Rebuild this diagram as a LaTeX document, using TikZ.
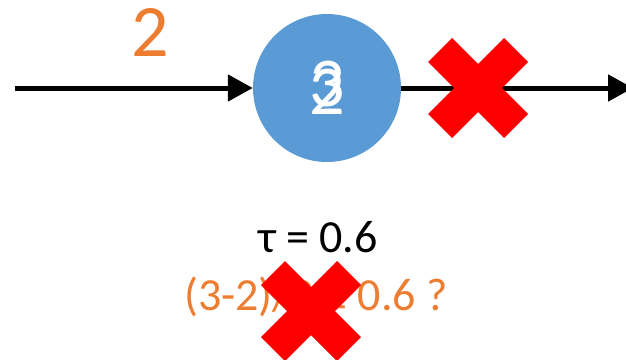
\documentclass[tikz,border=0pt]{standalone}
\usepackage{fontspec}
\setmainfont{Carlito}
\usetikzlibrary{arrows.meta}
\definecolor{nodeblue}{HTML}{5B9BD5}
\definecolor{accorange}{HTML}{ED7D31}
\definecolor{crossred}{HTML}{FF0000}
\tikzset{
  flow/.style={line width=5pt, -{Triangle[length=25pt,width=26pt]}},
  bignum/.style={inner sep=0pt, font=\fontsize{74}{80}\selectfont},
  cellnum/.style={inner sep=0pt, text=white, font=\fontsize{70}{76}\selectfont},
  eqtext/.style={inner sep=0pt, anchor=base, font=\fontsize{46}{52}\selectfont},
  pics/redcross/.style={code={
    \fill[crossred] (26,50) -- (50,26) -- (24,0) -- (50,-26) -- (26,-50) -- (0,-24)
      -- (-26,-50) -- (-50,-26) -- (-24,0) -- (-50,26) -- (-26,50) -- (0,24) -- cycle;
  }}
}
\begin{document}
\begin{tikzpicture}[x=1pt,y=-1pt]
\useasboundingbox (0,0) rectangle (626,359);
\node[circle, fill=nodeblue, minimum size=148pt, inner sep=0pt] (c) at (327,88) {};
\node[cellnum] (n3) at (327,84.5) {3};
\node[cellnum] (n2) at (327,91.5) {2};
\coordinate (start) at (15,88);
\coordinate (end) at (633,88);
\draw[flow] (start) -- (c.west);
\draw[flow] (c.east) -- (end);
\node[bignum, text=accorange, anchor=base] (lbl) at (150,56) {2};
\node[eqtext] (tau) at (318,252) {τ = 0.6};
\node[eqtext, text=accorange] (test) at (316,310) {(3-2)/3 ≥ 0.6 ?};
\pic at (478,88) {redcross};
\pic at (311,311) {redcross};
\end{tikzpicture}
\end{document}
